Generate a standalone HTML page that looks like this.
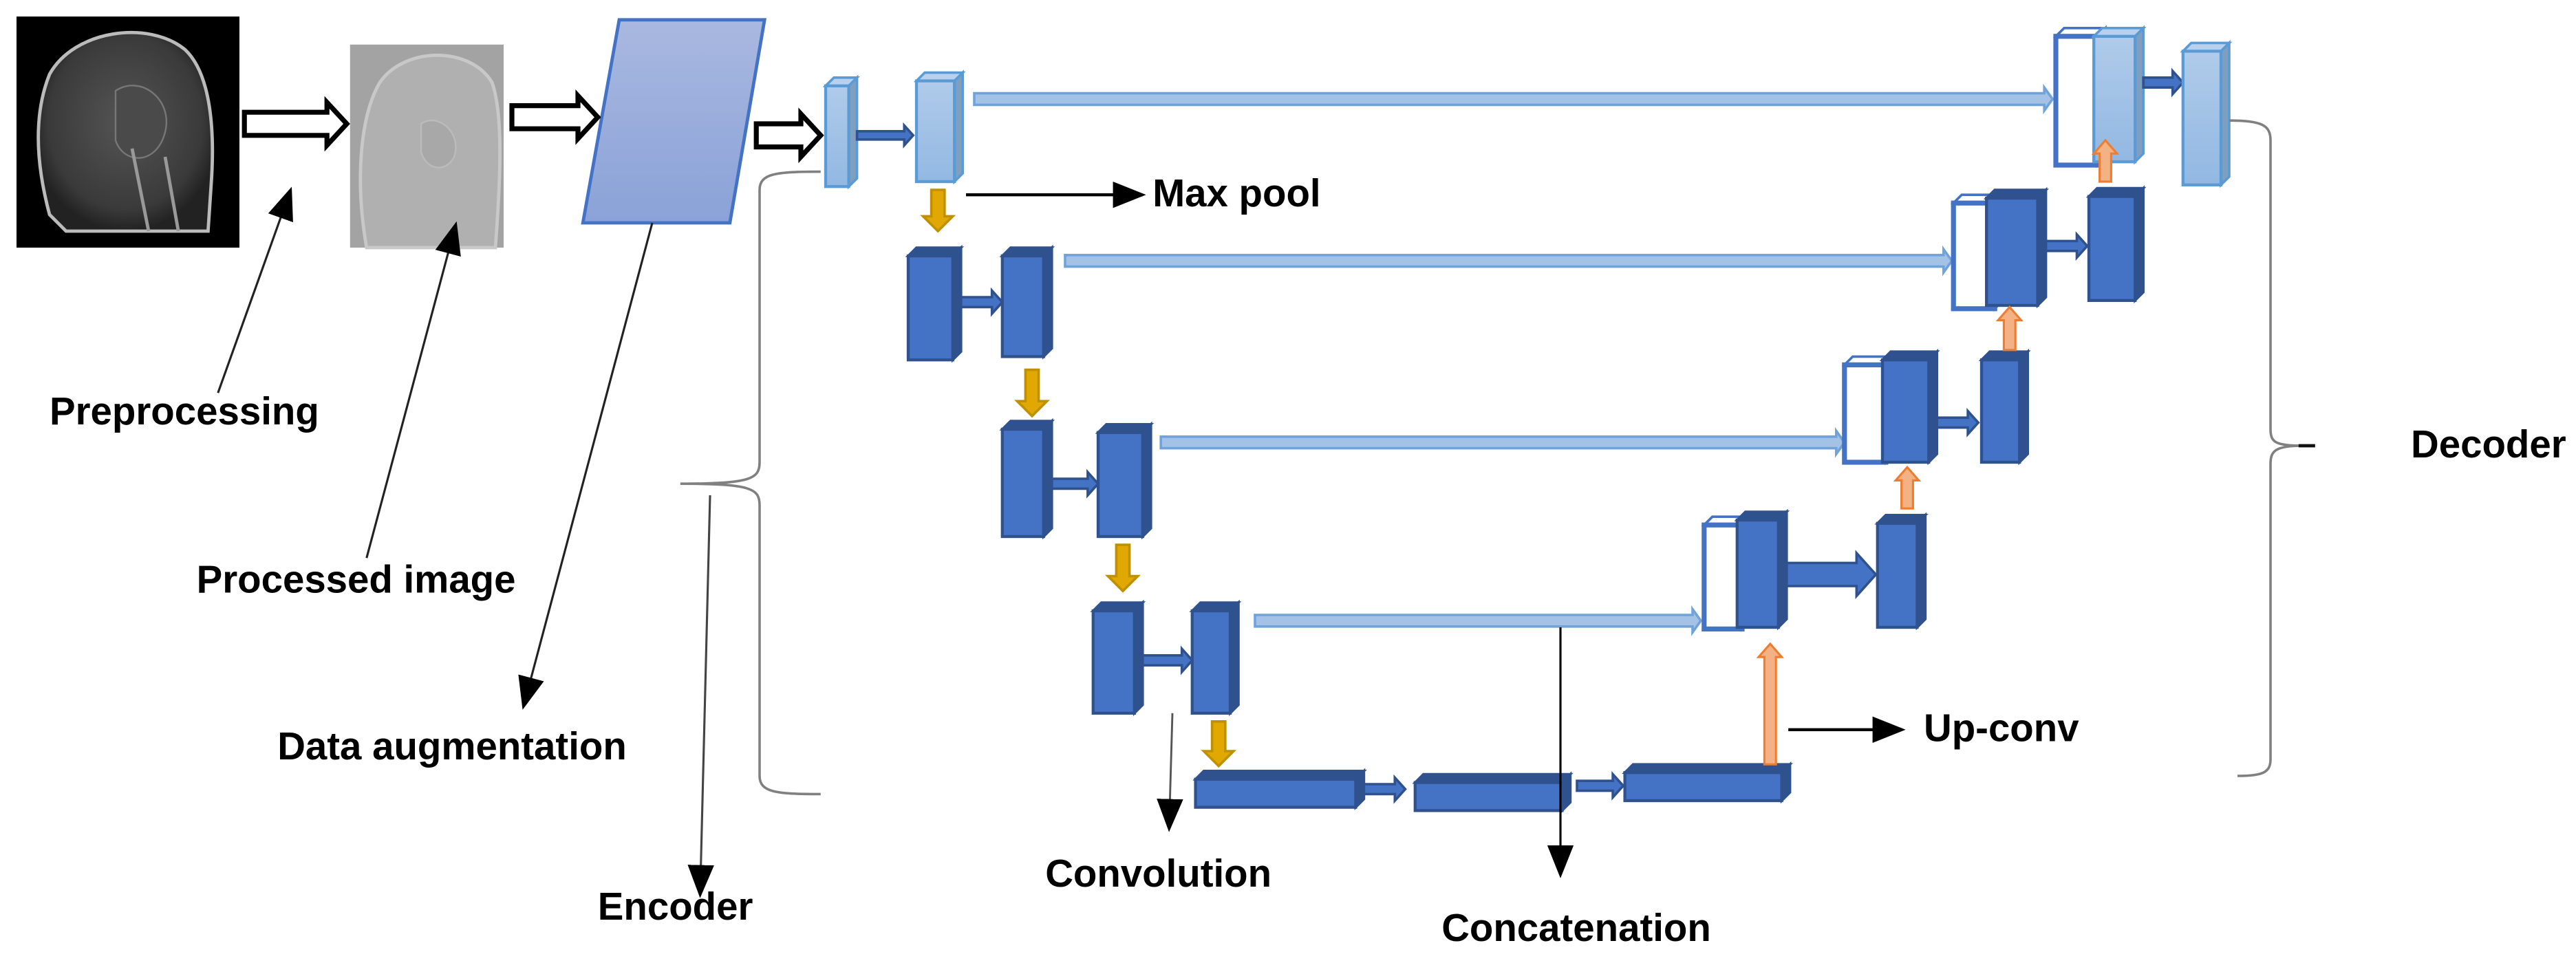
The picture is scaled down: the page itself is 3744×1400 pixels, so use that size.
<!DOCTYPE html>
<html><head><meta charset="utf-8"><style>
html,body{margin:0;padding:0;background:#fff;}
svg{display:block;}
text{font-family:"Liberation Sans",Arial,sans-serif;font-weight:bold;font-size:23.5px;fill:#000;}
</style></head><body>
<svg id="s" width="3744" height="1400" viewBox="0 0 1560 583.33" xmlns="http://www.w3.org/2000/svg">
<defs>
<linearGradient id="pg" x1="0" y1="0" x2="0" y2="1"><stop offset="0" stop-color="#a9b8e0"/><stop offset="1" stop-color="#8aa2d8"/></linearGradient>
<linearGradient id="lb" x1="0" y1="0" x2="0" y2="1"><stop offset="0" stop-color="#b0cbea"/><stop offset="1" stop-color="#92b8e2"/></linearGradient>
<radialGradient id="head" cx="0.5" cy="0.45" r="0.55"><stop offset="0" stop-color="#555"/><stop offset="0.8" stop-color="#3a3a3a"/><stop offset="1" stop-color="#222"/></radialGradient>
<marker id="ah" viewBox="0 0 10 10" refX="9" refY="5" markerWidth="20" markerHeight="16" orient="auto" markerUnits="userSpaceOnUse" preserveAspectRatio="none"><path d="M0,0L10,5L0,10z" fill="#000"/></marker>
</defs>
<rect x="10" y="10" width="135" height="140" fill="#000"/>
<path d="M30,130 C22,100 20,70 30,45 C45,18 90,12 112,30 C128,45 130,80 128,110 L126,140 L40,140 Z" fill="url(#head)" stroke="#bbb" stroke-width="2"/>
<path d="M70,55 C85,45 105,60 100,80 C95,100 75,100 70,85Z" fill="#4a4a4a" stroke="#777" stroke-width="1"/>
<path d="M80,90 L90,140 M100,95 L108,140" stroke="#999" stroke-width="2"/>
<rect x="212" y="27" width="93" height="123" fill="#a3a3a3"/>
<path d="M222,150 C215,110 218,70 230,50 C245,28 285,28 298,50 C305,70 303,110 300,150Z" fill="#b0b0b0" stroke="#c8c8c8" stroke-width="2"/>
<path d="M255,75 C265,68 280,80 275,95 C270,105 258,103 255,92Z" fill="#a8a8a8" stroke="#bbb"/>
<polygon points="375,12 463,12 442,135 353,135" fill="url(#pg)" stroke="#4472c4" stroke-width="2"/>
<g id="g"></g>
<text x="30" y="257">Preprocessing</text>
<text x="119" y="359">Processed  image</text>
<text x="168" y="460">Data augmentation</text>
<text x="362" y="557">Encoder</text>
<text x="633" y="537">Convolution</text>
<text x="873" y="570">Concatenation</text>
<text x="698" y="125">Max pool</text>
<text x="1165" y="449">Up-conv</text>
<text x="1460" y="277">Decoder</text>
</svg>
<script>
var g=document.getElementById('g'),h='';
function P(pts,f,s,w){h+='<polygon points="'+pts+'" fill="'+f+'" stroke="'+(s||'none')+'" stroke-width="'+(w||1)+'"/>';}
function L(x1,y1,x2,y2,w,c,m){h+='<line x1="'+x1+'" y1="'+y1+'" x2="'+x2+'" y2="'+y2+'" stroke="'+(c||'#000')+'" stroke-width="'+(w||1.3)+'"'+(m?' marker-end="url(#ah)"':'')+'/>';}
function box(x,y,w,hh,t){var d=5,fr,tp,st;
 if(t=='d'){fr='#4472c4';tp='#2f528f';st='#2f528f';}
 else if(t=='l'){fr='url(#lb)';tp='#b9d1ee';st='#5b9bd5';}
 else {fr='#fff';tp='#fff';st='#4472c4';}
 P(x+','+(y+d)+' '+(x+d)+','+y+' '+(x+w)+','+y+' '+(x+w-d)+','+(y+d),tp,st,1.5);
 P((x+w-d)+','+(y+d)+' '+(x+w)+','+y+' '+(x+w)+','+(y+hh-d)+' '+(x+w-d)+','+(y+hh),t=='l'?'#7f9fc0':tp,st,1.5);
 h+='<rect x="'+x+'" y="'+(y+d)+'" width="'+(w-d)+'" height="'+(hh-d)+'" fill="'+fr+'" stroke="'+st+'" stroke-width="'+(t=='w'?3:1.8)+'"/>';}
function hollow(x1,x2,y){var m=(y),t=7,hw=13,hl=12;
 P(x1+','+(m-t)+' '+(x2-hl)+','+(m-t)+' '+(x2-hl)+','+(m-hw)+' '+x2+','+m+' '+(x2-hl)+','+(m+hw)+' '+(x2-hl)+','+(m+t)+' '+x1+','+(m+t),'#fff','#000',3);}
function skip(x1,x2,y){var t=3.5,hw=7,hl=5;
 P(x1+','+(y-t)+' '+(x2-hl)+','+(y-t)+' '+(x2-hl)+','+(y-hw)+' '+x2+','+y+' '+(x2-hl)+','+(y+hw)+' '+(x2-hl)+','+(y+t)+' '+x1+','+(y+t),'#a4c2e6','#6fa3d9',1.5);}
function rarr(x1,x2,y,t,hw){t=t||3;hw=hw||7;var hl=hw*0.9;
 P(x1+','+(y-t)+' '+(x2-hl)+','+(y-t)+' '+(x2-hl)+','+(y-hw)+' '+x2+','+y+' '+(x2-hl)+','+(y+hw)+' '+(x2-hl)+','+(y+t)+' '+x1+','+(y+t),'#4472c4','#2f528f',1.5);}
function down(x,y1,y2){var t=4,hw=9,hl=9;
 P((x-t)+','+y1+' '+(x+t)+','+y1+' '+(x+t)+','+(y2-hl)+' '+(x+hw)+','+(y2-hl)+' '+x+','+y2+' '+(x-hw)+','+(y2-hl)+' '+(x-t)+','+(y2-hl),'#e0a800','#bf9000',1.5);}
function up(x,y1,y2){var t=3.5,hw=7,hl=8;
 P((x-t)+','+y1+' '+(x+t)+','+y1+' '+(x+t)+','+(y2+hl)+' '+(x+hw)+','+(y2+hl)+' '+x+','+y2+' '+(x-hw)+','+(y2+hl)+' '+(x-t)+','+(y2+hl),'#f4b183','#ed7d31',1.3);}
hollow(148,210,75);hollow(310,362,71);hollow(458,497,82);
box(500,47,19,66,'l');rarr(519,553,82,2.5,6);box(555,44,28,66,'l');
skip(590,1243,60);
box(1245,17,30,83,'w');box(1268,17,30,81,'l');rarr(1298,1322,50,3,7);box(1322,26,28,86,'l');
down(568,115,140);
box(550,150,32,68,'d');rarr(582,607,183,3,7);box(607,150,30,66,'d');
skip(645,1182,158);
box(1183,118,30,69,'w');box(1203,115,36,70,'d');rarr(1239,1264,149,3,7);box(1265,114,33,68,'d');
up(1275,110,85);
down(625,224,252);
box(607,255,30,70,'d');rarr(637,665,293,3,7);box(665,257,32,68,'d');
skip(703,1117,268);
box(1117,216,30,64,'w');box(1140,213,33,67,'d');rarr(1173,1198,256,3,7);box(1200,213,28,67,'d');
up(1217,212,186);
down(680,330,358);
box(662,365,30,67,'d');rarr(692,722,400,3,7);box(722,365,28,67,'d');
skip(760,1030,376);
box(1032,313,28,68,'w');box(1052,310,30,70,'d');rarr(1082,1136,348,7,13);box(1137,312,29,68,'d');
up(1155,308,283);
down(738,437,464);
box(724,467,102,22,'d');rarr(826,851,478,3,7);box(857,469,94,22,'d');rarr(955,983,476,3,7);box(984,463,100,22,'d');
up(1072,463,390);
L(1083,442,1152,442,1.8,'#000',1);
L(585,118,692,118,1.8,'#000',1);
L(710,432,708,502,1.2,'#555',1);
L(945,380,945,530,1.3,'#000',1);
L(132,238,176,115,1.3,'#222',1);
L(222,338,276,136,1.3,'#222',1);
L(395,135,317,428,1.3,'#222',1);
L(430,300,424,542,1.3,'#444',1);
h+='<path d="M497,104 C470,104 460,105 460,115 L460,280 C460,290 455,293 412,293 C455,293 460,296 460,306 L460,470 C460,480 470,481 497,481" fill="none" stroke="#808080" stroke-width="1.5"/>';
h+='<path d="M1350,73 C1370,73 1375,76 1375,85 L1375,260 C1375,268 1378,270 1395,270 C1378,270 1375,273 1375,281 L1375,460 C1375,468 1370,470 1355,470" fill="none" stroke="#808080" stroke-width="1.5"/>';
L(1392,270,1402,270,2,'#111');
g.innerHTML=h;
</script>
</body></html>
